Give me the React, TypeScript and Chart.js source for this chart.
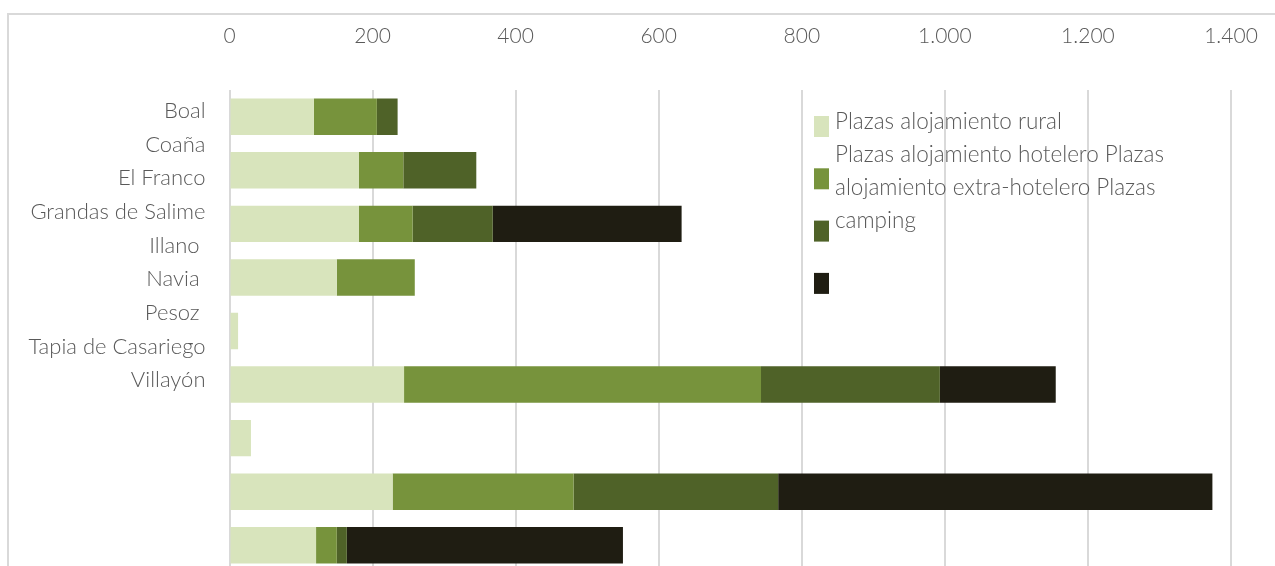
import React, { useEffect, useRef } from "react";
import { Chart, registerables } from "chart.js";

Chart.register(...registerables);

const municipios = [
  "Boal",
  "Coaña",
  "El Franco",
  "Grandas de Salime",
  "Illano ",
  "Navia ",
  "Pesoz ",
  "Tapia de Casariego",
  "Villayón",
];

const seriesNames = [
  "Plazas alojamiento rural",
  "Plazas alojamiento hotelero",
  "Plazas alojamiento extra-hotelero",
  "Plazas camping",
];

const plazasRural = [118, 181, 181, 150, 12, 244, 30, 228, 121];
const plazasHotelero = [88, 62, 75, 109, 0, 499, 0, 253, 29];
const plazasExtraHotelero = [29, 102, 112, 0, 0, 250, 0, 286, 14];
const plazasCamping = [0, 0, 264, 0, 0, 162, 0, 607, 386];

const seriesColors = ["#D8E4BC", "#77933C", "#4F6228", "#1F1D12"];

const xMin = 0;
const xMax = 1400;
const xStep = 200;

const FONT = "Lato, 'Open Sans', sans-serif";
const TEXT = "#595959";
const GRID = "#D9D9D9";

function formatThousands(v: number): string {
  const s = String(Math.round(v));
  return s.replace(/\B(?=(\d{3})+(?!\d))/g, ".");
}

const legendPlugin = {
  id: "brokenLegend",
  afterDraw(chart: any) {
    const ctx = chart.ctx;
    const ds = chart.data.datasets;
    ctx.save();
    ds.forEach((d: any, i: number) => {
      ctx.fillStyle = d.backgroundColor;
      ctx.fillRect(814, 116 + i * 52.3, 15, 21);
    });
    ctx.font = `300 22.5px ${FONT}`;
    ctx.fillStyle = TEXT;
    ctx.textBaseline = "middle";
    ctx.textAlign = "left";
    const lines: string[] = [ds[0].label];
    const words = ds
      .slice(1)
      .map((d: any) => d.label)
      .join(" ")
      .split(" ");
    const maxW = 365;
    let cur = "";
    words.forEach((w: string) => {
      const t = cur ? cur + " " + w : w;
      if (ctx.measureText(t).width > maxW && cur) {
        lines.push(cur);
        cur = w;
      } else {
        cur = t;
      }
    });
    if (cur) lines.push(cur);
    lines.forEach((l, j) => {
      ctx.fillText(l, 835, 122 + j * 33);
    });
    ctx.restore();
  },
};

export default function App() {
  const ref = useRef<HTMLCanvasElement | null>(null);

  useEffect(() => {
    if (!ref.current) return;
    const values = [plazasRural, plazasHotelero, plazasExtraHotelero, plazasCamping];
    const chart = new Chart(ref.current, {
      type: "bar",
      data: {
        labels: municipios,
        datasets: values.map((v, i) => ({
          label: seriesNames[i],
          data: v,
          backgroundColor: seriesColors[i],
          borderWidth: 0,
          categoryPercentage: 1,
          barPercentage: 0.68,
          yAxisID: "y",
        })),
      },
      options: {
        indexAxis: "y",
        responsive: false,
        animation: false,
        layout: { padding: { left: 0, right: 44, top: 0, bottom: 0 } },
        plugins: {
          legend: { display: false },
          tooltip: { enabled: false },
        },
        scales: {
          x: {
            type: "linear",
            position: "top",
            stacked: true,
            min: xMin,
            max: xMax,
            ticks: {
              stepSize: xStep,
              color: TEXT,
              font: { family: FONT, size: 21, weight: "300" },
              padding: 41,
              maxRotation: 0,
              callback: (v: any) => formatThousands(Number(v)),
            },
            grid: {
              color: GRID,
              lineWidth: 2,
              drawTicks: false,
            },
            border: { display: false },
            afterFit: (s: any) => {
              s.height = 90;
              s.paddingLeft = 0;
              s.paddingRight = 0;
            },
          },
          y: {
            type: "category",
            stacked: true,
            display: false,
          },
          yl: {
            type: "linear",
            position: "left",
            reverse: true,
            offset: false,
            bounds: "data",
            min: -0.625,
            max: 13.705,
            grid: { display: false, drawTicks: false, offset: false },
            border: { display: false },
            afterBuildTicks: (s: any) => {
              s.ticks = municipios.map((_, i) => ({ value: i }));
            },
            ticks: {
              autoSkip: false,
              color: TEXT,
              font: { family: FONT, size: 22, weight: "300" },
              padding: 24,
              callback: (v: any) => {
                const n = Math.round(Number(v));
                return municipios[n] ?? "";
              },
            },
            afterFit: (s: any) => {
              s.width = 229.5;
              s.paddingTop = 0;
              s.paddingBottom = 0;
            },
          },
        } as any,
      },
      plugins: [legendPlugin],
    } as any);
    return () => chart.destroy();
  }, []);

  return (
    <div
      style={{
        position: "fixed",
        left: 0,
        top: 0,
        width: 1275,
        height: 566,
        overflow: "hidden",
        background: "#ffffff",
      }}
    >
      <div
        style={{
          position: "absolute",
          left: 7,
          top: 13,
          width: 1400,
          height: 700,
          borderLeft: `2px solid ${GRID}`,
          borderTop: `2px solid ${GRID}`,
        }}
      />
      <canvas
        ref={ref}
        width={1275}
        height={572}
        style={{ position: "absolute", left: 0, top: 0, width: 1275, height: 572 }}
      />
    </div>
  );
}
